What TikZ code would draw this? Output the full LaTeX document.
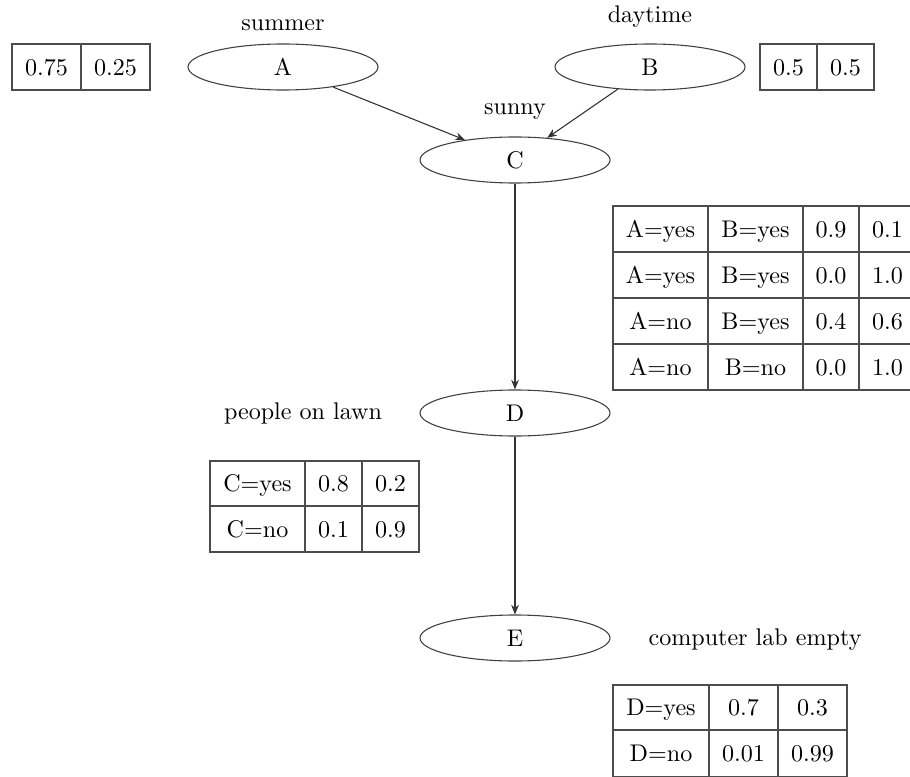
\documentclass[tikz,border=0pt]{standalone}
\usetikzlibrary{shapes.geometric,arrows.meta}
\begin{document}
\begin{tikzpicture}[x=0.415pt,y=-0.415pt,
  line width=0.45pt,
  var/.style={ellipse,draw=black!75,line width=0.45pt,inner sep=0pt,minimum width=78.85pt,minimum height=19.1pt},
  lbl/.style={anchor=base,inner sep=0pt},
  tcell/.style={inner sep=0pt,text height=6.83pt,text depth=0pt,anchor=center},
  grid/.style={draw=black!70,line width=0.45pt},
  edge/.style={draw=black!80,line width=0.45pt,-{Stealth[length=4pt,width=3.2pt]}}]
\useasboundingbox (0,0) rectangle (910,776);
\clip (0,0) rectangle (910,776);

% variables
\node[var] (A) at (283,67) {A};
\node[var] (B) at (650,67) {B};
\node[var] (C) at (515,160) {C};
\node[var] (D) at (515,413) {D};
\node[var] (E) at (515,638) {E};

% labels
\node[lbl] (lA) at (283,31) {summer};
\node[lbl] (lB) at (650,23) {daytime};
\node[lbl] (lC) at (515,115) {sunny};
\node[lbl] (lD) at (303,419) {people on lawn};
\node[lbl] (lE) at (755,645) {computer lab empty};

% edges
\draw[edge] (A) -- (C);
\draw[edge] (B) -- (C);
\draw[edge] (C) -- (D);
\draw[edge] (D) -- (E);

% table A
\draw[grid] (12,44) rectangle (150,90);
\draw[grid] (81,44) -- (81,90);
\node[tcell] (ta1) at (46.5,67) {0.75};
\node[tcell] (ta2) at (115.5,67) {0.25};

% table B
\draw[grid] (760,44) rectangle (874,90);
\draw[grid] (817,44) -- (817,90);
\node[tcell] (tb1) at (788.5,67) {0.5};
\node[tcell] (tb2) at (845.5,67) {0.5};

% table C
\draw[grid] (613,206) rectangle (916,390);
\foreach \x in {708,803,859} \draw[grid] (\x,206) -- (\x,390);
\foreach \y in {252,298,344} \draw[grid] (613,\y) -- (916,\y);
\node[tcell] (tc11) at (660.5,229) {A=yes};
\node[tcell] (tc12) at (755.5,229) {B=yes};
\node[tcell] (tc13) at (831,229) {0.9};
\node[tcell] (tc14) at (887.5,229) {0.1};
\node[tcell] (tc21) at (660.5,275) {A=yes};
\node[tcell] (tc22) at (755.5,275) {B=yes};
\node[tcell] (tc23) at (831,275) {0.0};
\node[tcell] (tc24) at (887.5,275) {1.0};
\node[tcell] (tc31) at (660.5,321) {A=no};
\node[tcell] (tc32) at (755.5,321) {B=yes};
\node[tcell] (tc33) at (831,321) {0.4};
\node[tcell] (tc34) at (887.5,321) {0.6};
\node[tcell] (tc41) at (660.5,367) {A=no};
\node[tcell] (tc42) at (755.5,367) {B=no};
\node[tcell] (tc43) at (831,367) {0.0};
\node[tcell] (tc44) at (887.5,367) {1.0};

% table D
\draw[grid] (210,461) rectangle (419,552);
\foreach \x in {305,362} \draw[grid] (\x,461) -- (\x,552);
\draw[grid] (210,506) -- (419,506);
\node[tcell] (td11) at (257.5,483.5) {C=yes};
\node[tcell] (td12) at (333.5,483.5) {0.8};
\node[tcell] (td13) at (390.5,483.5) {0.2};
\node[tcell] (td21) at (257.5,529) {C=no};
\node[tcell] (td22) at (333.5,529) {0.1};
\node[tcell] (td23) at (390.5,529) {0.9};

% table E
\draw[grid] (613,685) rectangle (847,777);
\foreach \x in {709,778} \draw[grid] (\x,685) -- (\x,777);
\draw[grid] (613,730) -- (847,730);
\node[tcell] (te11) at (661,707.5) {D=yes};
\node[tcell] (te12) at (743.5,707.5) {0.7};
\node[tcell] (te13) at (812.5,707.5) {0.3};
\node[tcell] (te21) at (661,753) {D=no};
\node[tcell] (te22) at (743.5,753) {0.01};
\node[tcell] (te23) at (812.5,753) {0.99};
\end{tikzpicture}
\end{document}
